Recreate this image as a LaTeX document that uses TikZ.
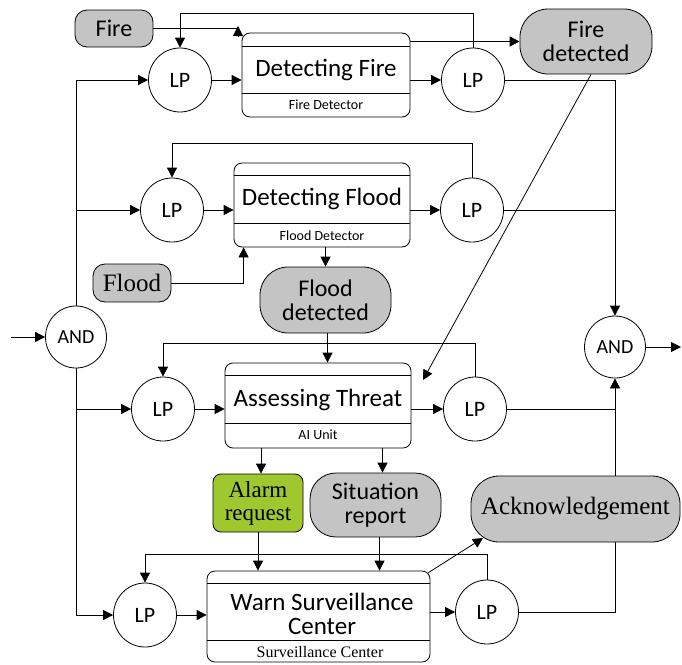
\documentclass[tikz,border=0pt]{standalone}
\usepackage{fontspec}
\setmainfont{Carlito}
\newfontfamily\serf{Liberation Serif}
\usetikzlibrary{arrows.meta,calc,shapes.geometric}
\definecolor{objgray}{RGB}{196,196,196}
\definecolor{alarmgreen}{RGB}{158,200,45}
\begin{document}
\begin{tikzpicture}[x=1pt,y=-1pt,line width=0.8pt,
  arr/.style={-{Triangle[length=10pt,width=10pt]}},
  lp/.style={ellipse,draw,fill=white,minimum width=63pt,minimum height=64pt,inner sep=0pt,font=\fontsize{22}{22}\selectfont},
  andn/.style={ellipse,draw,fill=white,minimum width=61pt,minimum height=62pt,inner sep=0pt,font=\fontsize{20}{20}\selectfont},
  proc/.style={draw,rounded corners=8pt,inner sep=0pt},
  ttl/.style={font=\fontsize{25}{24}\selectfont,align=center,inner sep=0pt},
  sublbl/.style={font=\fontsize{14}{14}\selectfont,inner sep=0pt},
  obj/.style={draw,fill=objgray,rounded corners=#1,inner sep=0pt,align=center,font=\fontsize{24}{24}\selectfont},
  obj/.default=12pt,
  serifobj/.style={font=\serf\fontsize{25}{23}\selectfont},
]
\useasboundingbox (0,0) rectangle (682,664);

% ---------- process boxes ----------
\node[proc,minimum width=168pt,minimum height=84pt] (df) at (326,75) {};
\draw ($(df.north west)+(0,14)$) -- ($(df.north east)+(0,14)$);
\draw ($(df.south west)+(0,-24)$) -- ($(df.south east)+(0,-24)$);
\node[ttl] (dft) at (326,70) {Detecting Fire};
\node[sublbl] (dfs) at (326,105) {Fire Detector};

\node[proc,minimum width=176pt,minimum height=84pt] (dfl) at (322,205) {};
\draw ($(dfl.north west)+(0,13)$) -- ($(dfl.north east)+(0,13)$);
\draw ($(dfl.south west)+(0,-24)$) -- ($(dfl.south east)+(0,-24)$);
\node[ttl] (dflt) at (322,199) {Detecting Flood};
\node[sublbl] (dfls) at (322,236) {Flood Detector};

\node[proc,minimum width=186pt,minimum height=85pt] (at) at (318,405.5) {};
\draw ($(at.north west)+(0,13)$) -- ($(at.north east)+(0,13)$);
\draw ($(at.south west)+(0,-25)$) -- ($(at.south east)+(0,-25)$);
\node[ttl] (att) at (318,400) {Assessing Threat};
\node[sublbl] (ats) at (318,435) {AI Unit};

\node[proc,minimum width=223pt,minimum height=91pt] (wsc) at (318.5,616.5) {};
\draw ($(wsc.north west)+(0,13)$) -- ($(wsc.north east)+(0,13)$);
\draw ($(wsc.south west)+(0,-22)$) -- ($(wsc.south east)+(0,-22)$);
\node[ttl] (wsct) at (322,614) {Warn Surveillance\\Center};
\node[sublbl,font=\serf\fontsize{16}{16}\selectfont] (wscs) at (320,652) {Surveillance Center};

% ---------- objects ----------
\node[obj,minimum width=78pt,minimum height=37pt] (fire) at (114,28.5) {Fire};
\node[obj=28pt,minimum width=132pt,minimum height=65pt] (fd) at (586,41.5) {Fire\\detected};
\node[obj,serifobj,minimum width=78pt,minimum height=38pt] (flood) at (132,283) {Flood};
\node[obj=28pt,minimum width=131pt,minimum height=66pt] (fdd) at (325.5,300) {Flood\\detected};
\node[obj=8pt,serifobj,font=\serf\fontsize{23}{23}\selectfont,fill=alarmgreen,minimum width=90pt,minimum height=58pt] (alarm) at (258,503) {Alarm\\request};
\node[obj=26pt,minimum width=131pt,minimum height=64pt] (sit) at (375.5,505) {Situation\\report};
\node[obj=28pt,serifobj,minimum width=209pt,minimum height=66pt] (ack) at (575.5,509) {Acknowledgement};

% ---------- LP and AND ----------
\node[lp] (lp1) at (180,80) {LP};
\node[lp] (lp2) at (473,80) {LP};
\node[lp] (lp3) at (172,210) {LP};
\node[lp] (lp4) at (472,210) {LP};
\node[lp] (lp5) at (163,409) {LP};
\node[lp] (lp6) at (475,409) {LP};
\node[lp] (lp7) at (145,615) {LP};
\node[lp] (lp8) at (487,612) {LP};
\node[andn] (and1) at (76,337) {AND};
\node[andn] (and2) at (615,347) {AND};

% ---------- coordinates ----------
\coordinate (in) at (11,337);
\coordinate (out) at (681,347);
\coordinate (fc) at (238,26);
\coordinate (fcb) at (238,37);
\coordinate (dtip) at (423,380);
\coordinate (ackin) at (483,538);
\coordinate (a1) at ($(fdd.south)+(2,0)$);
\coordinate (a2) at ($(alarm.north)+(3,0)$);
\coordinate (a3) at ($(sit.north)+(7,0)$);
\coordinate (a4) at ($(sit.south)+(4,0)$);
\coordinate (a5) at ($(dfl.south west)+(10,0)$);
\coordinate (a6) at ($(fd.south)+(5,0)$);
\coordinate (a7) at ($(wsc.north east)+(-2,2)$);

% ---------- connectors ----------
\draw[arr] (in) -- (and1.west);
\draw[arr] (and2.east) -- (out);

\draw[arr] (and1.north) |- (lp1.west);
\draw[arr] (and1.north |- lp3.west) -- (lp3.west);
\draw[arr] (and1.south) |- (lp7.west);
\draw[arr] (and1.south |- lp5.west) -- (lp5.west);

\draw[arr] (lp1.east) -- (lp1.east -| df.west);
\draw[arr] (df.east |- lp2.west) -- (lp2.west);
\draw[arr] (lp3.east) -- (lp3.east -| dfl.west);
\draw[arr] (dfl.east |- lp4.west) -- (lp4.west);
\draw[arr] (lp5.east) -- (lp5.east -| at.west);
\draw[arr] (at.east |- lp6.west) -- (lp6.west);
\draw[arr] (lp7.east) -- (lp7.east -| wsc.west);
\draw[arr] (wsc.east |- lp8.west) -- (lp8.west);

\draw[arr] (lp2.north) -- ++(0,-34) -| (lp1.north);
\draw[arr] (lp4.north) -- ++(0,-34) -| (lp3.north);
\draw[arr] (lp6.north) -- ++(0,-33) -| (lp5.north);
\draw[arr] (lp8.north) -- ++(0,-25) -| (lp7.north);

\draw[arr] (lp2.east) -| (and2.north);
\draw (lp4.east) -- (lp4.east -| and2.north);
\draw (lp6.east) -- (lp6.east -| and2.south);
\draw[arr] (and2.south |- ack.north) -- (and2.south);
\draw (lp8.east) -| (and2.south |- ack.south);

\draw (fire.east) -- (fire.east -| fc);
\draw[arr] (fcb) -- (fc);
\draw[arr] (fd.west -| df.east) -- (fd.west);
\draw[arr] (a6) -- (dtip);

\draw[arr] (flood.east) -| (a5);
\draw[arr] (fdd.north |- dfl.south) -- (fdd.north);
\draw[arr] (a1) -- (a1 |- at.north);
\draw[arr] (a2 |- at.south) -- (a2);
\draw[arr] (a3 |- at.south) -- (a3);
\draw[arr] (alarm.south) -- (alarm.south |- wsc.north);
\draw[arr] (a4) -- (a4 |- wsc.north);
\draw[arr] (a7) -- (ackin);
\end{tikzpicture}
\end{document}
